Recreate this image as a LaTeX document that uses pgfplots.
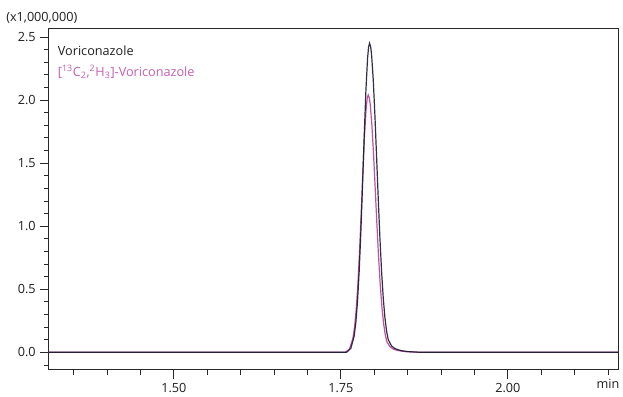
\documentclass[border=0pt]{standalone}
\usepackage{pgfplots}
\pgfplotsset{compat=1.18}
\usepackage{fontspec}
\setmainfont{Open Sans}
\definecolor{axisgray}{RGB}{40,40,40}
\definecolor{txtgray}{RGB}{30,30,30}
\definecolor{navy}{RGB}{25,25,45}
\definecolor{pinkc}{RGB}{190,80,165}
\definecolor{pinktxt}{RGB}{195,95,180}
\begin{document}
\begin{tikzpicture}
\begin{axis}[
  scale only axis,
  width=426.75pt, height=255.75pt,
  xmin=1.313, xmax=2.165,
  ymin=-0.14, ymax=2.563,
  axis line style={axisgray, line width=0.75pt},
  every tick/.style={axisgray, line width=0.6pt},
  tick align=outside,
  xtick pos=bottom, ytick pos=left,
  xtick={1.50,1.75,2.00},
  xticklabels={1.50,1.75,2.00},
  extra x ticks={2.15},
  extra x tick labels={min},
  extra x tick style={major tick length=3.5pt},
  minor xtick={1.35,1.40,1.45,1.55,1.60,1.65,1.70,1.80,1.85,1.90,1.95,2.05,2.10},
  ytick={0,0.5,1.0,1.5,2.0,2.5},
  yticklabels={0.0,0.5,1.0,1.5,2.0,2.5},
  minor ytick={-0.1,0.1,0.2,0.3,0.4,0.6,0.7,0.8,0.9,1.1,1.2,1.3,1.4,1.6,1.7,1.8,1.9,2.1,2.2,2.3,2.4},
  major tick length=6.5pt, minor tick length=3.5pt,
  tick label style={font=\fontsize{9.5}{11}\selectfont, text=txtgray},
  /pgf/number format/assume math mode=true,
  clip=false,
]
\addplot[pinkc, line width=0.9pt] coordinates {
(1.313,0) (1.756,0) (1.758,0.005) (1.763,0.027) (1.768,0.109) (1.7705,0.199) (1.773,0.339) (1.7755,0.539)
(1.778,0.800) (1.7805,1.107) (1.783,1.431) (1.7855,1.725) (1.788,1.940) (1.7895,2.015) (1.791,2.04)
(1.7925,2.021) (1.794,1.966) (1.7965,1.800) (1.799,1.566) (1.8015,1.293) (1.804,1.015) (1.8065,0.755)
(1.809,0.535) (1.8115,0.359) (1.814,0.229) (1.8165,0.139) (1.819,0.083) (1.824,0.042) (1.829,0.025)
(1.834,0.017) (1.840,0.010) (1.848,0.005) (1.858,0.0025) (1.870,0) (2.165,0)
};
\addplot[navy, line width=0.9pt, opacity=0.9] coordinates {
(1.313,0) (1.758,0) (1.760,0.006) (1.765,0.032) (1.770,0.131) (1.7725,0.239) (1.775,0.407) (1.7775,0.647)
(1.780,0.961) (1.7825,1.330) (1.785,1.718) (1.7875,2.072) (1.790,2.330) (1.7915,2.42) (1.793,2.45)
(1.7945,2.427) (1.796,2.361) (1.7985,2.162) (1.801,1.881) (1.8035,1.553) (1.806,1.219) (1.8085,0.907)
(1.811,0.642) (1.8135,0.431) (1.816,0.275) (1.8185,0.167) (1.821,0.100) (1.826,0.050) (1.831,0.030)
(1.836,0.020) (1.842,0.012) (1.850,0.006) (1.860,0.003) (1.872,0) (2.165,0)
};
\end{axis}
\node[anchor=west, inner sep=0pt, text=txtgray, font=\fontsize{9.5}{11}\selectfont] at ([xshift=-32.25pt, yshift=8.25pt]current axis.north west) {(x1,000,000)};
\node[anchor=west, inner sep=0pt, text=txtgray, font=\fontsize{9.5}{11}\selectfont] at ([xshift=6.5pt, yshift=-16.5pt]current axis.north west) {Voriconazole};
\node[anchor=west, inner sep=0pt, text=pinktxt, font=\fontsize{9.5}{11}\selectfont] at ([xshift=6.5pt, yshift=-32.25pt]current axis.north west) {[\textsuperscript{13}C\textsubscript{2},\textsuperscript{2}H\textsubscript{3}]-Voriconazole};
\pgfresetboundingbox
\path ([xshift=-36.75pt, yshift=-20.25pt]current axis.south west) rectangle ([xshift=3.75pt, yshift=21.75pt]current axis.north east);
\end{tikzpicture}
\end{document}
